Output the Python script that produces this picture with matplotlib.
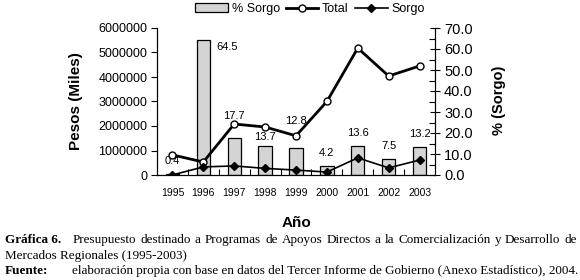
import numpy as np
import matplotlib
matplotlib.use("Agg")
import matplotlib.pyplot as plt

years = ["1995", "1996", "1997", "1998", "1999", "2000", "2001", "2002", "2003"]
pct_sorgo = [0.4, 64.5, 17.7, 13.7, 12.8, 4.2, 13.6, 7.5, 13.2]
total = [820000, 530000, 2080000, 1960000, 1600000, 3000000, 5180000, 4040000, 4450000]
sorgo = [3000, 330000, 370000, 270000, 200000, 120000, 700000, 290000, 610000]

# label offsets (pixels) for the bar value labels
label_dx = [0, 13, 0, 0, 0, 0, 0, 0, 0]
label_dy = [13, -7, 22, 9, 27, 13, 13, 13, 13]

plt.rcParams["font.family"] = ["Liberation Sans", "DejaVu Sans"]

fig = plt.figure(figsize=(5.8, 2.8), dpi=100)
ax1 = fig.add_axes([157 / 580, 1 - 175 / 280, 278 / 580, 147 / 280])
ax2 = ax1.twinx()
x = np.arange(len(years))

# bars: % sorgo on the right scale
ax1.bar(x, pct_sorgo, width=0.43, color="#d4d4d4", edgecolor="black",
        linewidth=0.9, label="% Sorgo", zorder=1)
ax1.set_ylim(0, 70)
ax1.set_xlim(-0.5, len(years) - 0.5)
ax1.yaxis.tick_right()
ax1.yaxis.set_label_position("right")
ax1.set_yticks(np.arange(0, 71, 10))
ax1.set_yticks(np.arange(0, 71, 5), minor=True)
ax1.set_yticklabels([f"{v:.1f}" for v in np.arange(0, 71, 10)], fontsize=10.5)
ax1.tick_params(axis="y", which="major", direction="inout", length=7, width=0.8, pad=3)
ax1.tick_params(axis="y", which="minor", direction="in", length=4, width=0.8)
ax1.set_ylabel("% (Sorgo)", fontsize=10.5, fontweight="bold")
ax1.yaxis.set_label_coords(1.205, 0.51)

for i, v in enumerate(pct_sorgo):
    ax1.annotate(f"{v:.1f}", (x[i], v), xytext=(label_dx[i], label_dy[i]),
                 textcoords="offset pixels", ha="left" if label_dx[i] else "center",
                 va="center", fontsize=8)

# lines: pesos on the left scale
ax2.yaxis.tick_left()
ax2.yaxis.set_label_position("left")
ax2.plot(x, total, color="black", linewidth=2, marker="o", markersize=5,
         markerfacecolor="white", markeredgecolor="black", markeredgewidth=1,
         label="Total", zorder=3)
ax2.plot(x, sorgo, color="black", linewidth=1.2, marker="D", markersize=4.5,
         label="Sorgo", zorder=3)
ax2.set_ylim(0, 6000000)
ax2.set_yticks(np.arange(0, 6000001, 1000000))
ax2.set_yticklabels([str(v) for v in range(0, 6000001, 1000000)], fontsize=9)
ax2.tick_params(axis="y", direction="out", length=4, width=0.8, pad=3)
ax2.set_ylabel("Pesos (Miles)", fontsize=11, fontweight="bold")
ax2.yaxis.set_label_coords(-0.266, 0.5)

for a in (ax1, ax2):
    a.spines["top"].set_visible(False)
    a.spines["left"].set_linewidth(0.8)
    a.spines["right"].set_linewidth(0.8)
    a.spines["bottom"].set_linewidth(0.8)

ax1.set_xticks(x)
ax1.set_xticklabels(years, fontsize=7.5)
ax1.set_xticks(np.arange(0.5, len(years) - 1, 1), minor=True)
ax1.tick_params(axis="x", which="major", length=0, pad=9)
ax1.tick_params(axis="x", which="minor", direction="in", length=4, width=0.8)
ax2.tick_params(axis="x", length=0)

fig.text(296 / 580, 1 - 223 / 280, "Año", ha="center", va="center",
         fontsize=11, fontweight="bold")

h1, l1 = ax1.get_legend_handles_labels()
h2, l2 = ax2.get_legend_handles_labels()
fig.legend(h1 + h2, l1 + l2, loc="center", bbox_to_anchor=(310 / 580, 1 - 9 / 280),
           ncol=3, frameon=False, fontsize=9, handlelength=2.6, columnspacing=0.5,
           handletextpad=0.3, borderaxespad=0)

serif = ["Liberation Serif", "DejaVu Serif"]
cap_size = 9.45


def justified(text, x0, x1, y):
    # spread the words of one caption line between x0 and x1 (pixels)
    renderer = fig.canvas.get_renderer()
    words = text.split()
    items = [fig.text(0, 0, w, family=serif, fontsize=cap_size) for w in words]
    widths = [t.get_window_extent(renderer).width for t in items]
    gap = (x1 - x0 - sum(widths)) / (len(words) - 1)
    pos = x0
    for t, w in zip(items, widths):
        t.set_position((pos / 580, 1 - y / 280))
        t.set_va("center")
        pos += w + gap


fig.text(5 / 580, 1 - 240 / 280, "Gráfica 6.", family=serif, fontweight="bold",
         fontsize=cap_size, va="center")
justified("Presupuesto destinado a Programas de Apoyos Directos a la Comercialización y Desarrollo de",
          73, 577, 240)
fig.text(5 / 580, 1 - 256 / 280, "Mercados Regionales (1995-2003)", family=serif,
         fontsize=cap_size, va="center")
fig.text(5 / 580, 1 - 271 / 280, "Fuente:", family=serif, fontweight="bold",
         fontsize=cap_size, va="center")
fig.text(72 / 580, 1 - 271 / 280,
         "elaboración propia con base en datos del Tercer Informe de Gobierno (Anexo Estadístico), 2004.",
         family=serif, fontsize=cap_size, va="center")

fig.savefig("out.png", dpi=100)
